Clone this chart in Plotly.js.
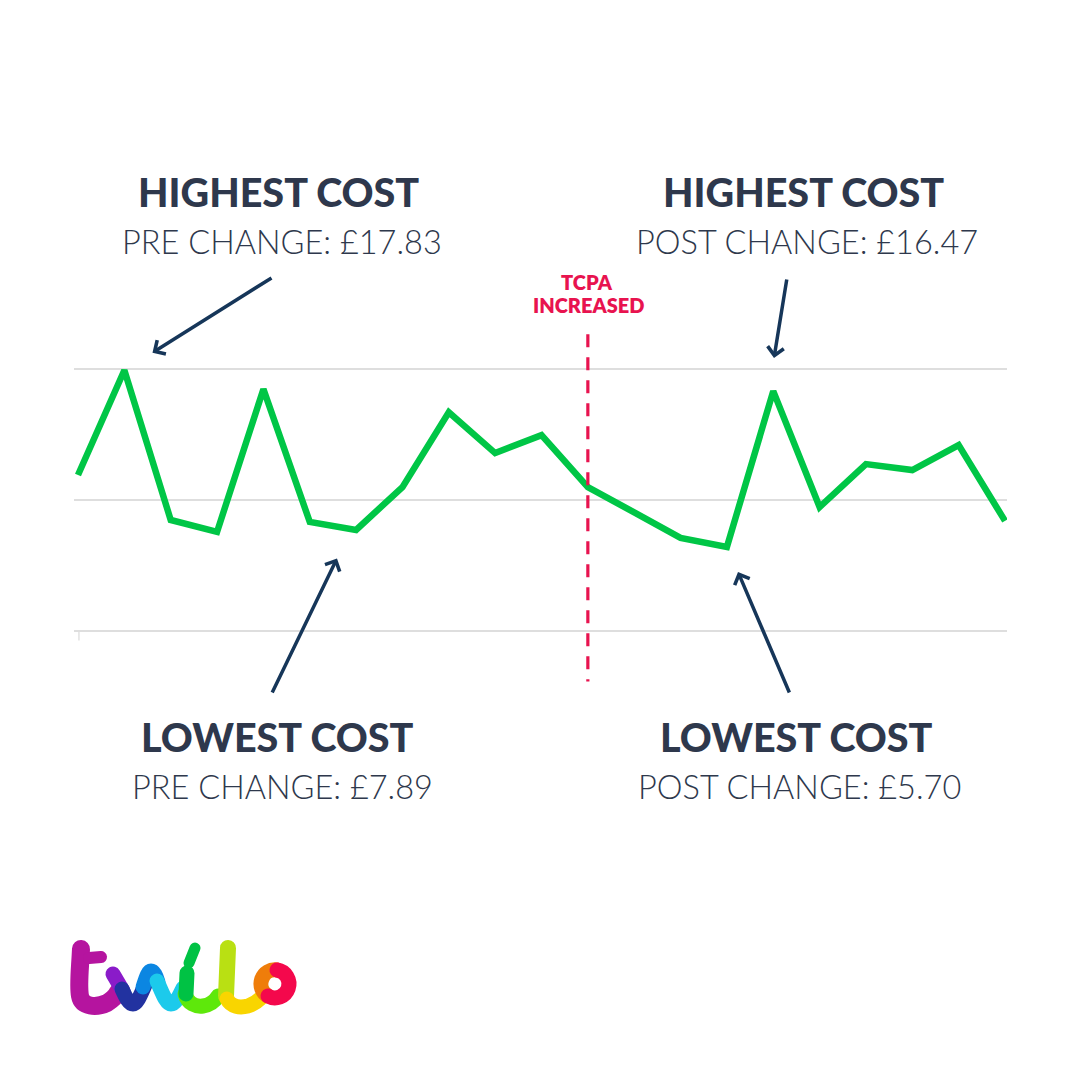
<!DOCTYPE html>
<html>
<head>
<meta charset="utf-8">
<script src="https://cdn.plot.ly/plotly-3.0.1.min.js"></script>
<style>
  html, body { margin: 0; padding: 0; background: #ffffff; }
  #chart { width: 1080px; height: 1080px; }
</style>
</head>
<body>
<div id="chart"></div>
<script>
// ---------- data ----------
const periods = [0, 1, 2, 3, 4, 5, 6, 7, 8, 9, 10, 11, 12, 13, 14, 15, 16, 17, 18, 19, 20];
const costs = [11.53, 17.94, 8.78, 8.05, 16.78, 8.66, 8.17, 10.79, 15.37, 12.87, 13.97,
               10.79, 9.24, 7.68, 7.13, 16.66, 9.57, 12.20, 11.83, 13.36, 8.72];
const gridValues = [2, 10, 18];
const changeIndex = 11;
const changeLabel = ["TCPA", "INCREASED"];
const headings = ["HIGHEST COST", "HIGHEST COST", "LOWEST COST", "LOWEST COST"];
const subLabels = ["PRE CHANGE: £17.83", "POST CHANGE: £16.47", "PRE CHANGE: £7.89", "POST CHANGE: £5.70"];

// ---------- layout helpers ----------
const ML = 74, MR = 73, MT = 330, MB = 392;
const PW = 1080 - ML - MR, PH = 1080 - MT - MB;
const px = x => (x - ML) / PW;
const py = y => (1080 - MB - y) / PH;

const ink = '#2e384c';
const arrowInk = '#163659';
const pink = '#e8134f';

const annotations = [];
const textBlocks = [
  {h: headings[0], s: subLabels[0], hx: 278, hy: 192, sx: 282, sy: 241},
  {h: headings[1], s: subLabels[1], hx: 803, hy: 192, sx: 807, sy: 241},
  {h: headings[2], s: subLabels[2], hx: 277, hy: 736, sx: 282, sy: 786},
  {h: headings[3], s: subLabels[3], hx: 796, hy: 736, sx: 799, sy: 786}
];
textBlocks.forEach(b => {
  annotations.push({xref: 'paper', yref: 'paper', x: px(b.hx), y: py(b.hy),
    xanchor: 'center', yanchor: 'middle', showarrow: false, text: b.h,
    font: {family: 'Lato', size: 39.5, color: ink, weight: 900}});
  annotations.push({xref: 'paper', yref: 'paper', x: px(b.sx), y: py(b.sy),
    xanchor: 'center', yanchor: 'middle', showarrow: false, text: b.s,
    font: {family: 'Lato', size: 32.5, color: ink, weight: 300}});
});
annotations.push({xref: 'paper', yref: 'paper', x: px(586.5), y: py(282), xanchor: 'center', yanchor: 'middle',
  showarrow: false, text: changeLabel[0], font: {family: 'Lato', size: 20, color: pink, weight: 800}});
annotations.push({xref: 'paper', yref: 'paper', x: px(588), y: py(305), xanchor: 'center', yanchor: 'middle',
  showarrow: false, text: changeLabel[1], font: {family: 'Lato', size: 20, color: pink, weight: 800}});
const arrows = [
  {tx: 152.5, ty: 352.7, fx: 273, fy: 277},
  {tx: 774, ty: 358, fx: 787, fy: 278},
  {tx: 337, ty: 558.5, fx: 271.5, fy: 694},
  {tx: 738, ty: 572, fx: 790, fy: 694}
];
arrows.forEach(a => {
  annotations.push({xref: 'paper', yref: 'paper', x: px(a.tx), y: py(a.ty),
    ax: a.fx - a.tx, ay: a.fy - a.ty, axref: 'pixel', ayref: 'pixel',
    text: '', showarrow: true, arrowhead: 4, arrowsize: 0.9, arrowwidth: 3.5,
    arrowcolor: arrowInk, standoff: 0, startstandoff: 0});
});

const logoSvg = `<svg xmlns="http://www.w3.org/2000/svg" viewBox="0 0 260 100" width="260" height="100">
<g fill="none" stroke-linecap="round" stroke-linejoin="round">
<path d="M21,19 C20,40 18,55 20,66 C22,77 36,78 47,73 C52,70 56,66 58,62" stroke="#b5149f" stroke-width="18"/>
<path d="M29,28 L41,27" stroke="#b5149f" stroke-width="12"/>
<path d="M53,44 L63,61" stroke="#8a1bc9" stroke-width="15"/>
<path d="M62,59 C66,68 69,74 73,74 C77,74 81,64 85,55" stroke="#2232a0" stroke-width="15"/>
<path d="M83,57 C86,48 88,41 91,41 C94,41 96,46 98,52" stroke="#0b86e2" stroke-width="15"/>
<path d="M97,51 C102,62 106,74 111,74 C116,74 120,64 123,58" stroke="#1ccaeb" stroke-width="15"/>
<path d="M125,64 C128,74 136,77 143,76 C150,75 155,71 158,66" stroke="#5ee80b" stroke-width="15"/>
<path d="M127,43 L126,64" stroke="#00c244" stroke-width="15"/>
<path d="M135,18 L129,33" stroke="#00c244" stroke-width="11"/>
<path d="M168,18 L166,66" stroke="#b9e013" stroke-width="16"/>
<path d="M167,69 C171,77 180,78 188,76 C194,74 198,71 201,68" stroke="#f9d500" stroke-width="15"/>
<path d="M217,40 A14,14 0 0 0 208,66" stroke="#ef7d0a" stroke-width="15"/>
<path d="M208,66 A14,14 0 1 0 217,40" stroke="#f4084c" stroke-width="15"/>
</g></svg>`;
const logoSrc = 'data:image/svg+xml;charset=utf-8,' + encodeURIComponent(logoSvg);

const traces = [{
  type: 'scatter', mode: 'lines', x: periods, y: costs,
  line: {color: '#00c646', width: 6.5, shape: 'linear'},
  hoverinfo: 'skip', showlegend: false
}];

const layout = {
  width: 1080, height: 1080,
  margin: {l: ML, r: MR, t: MT, b: MB, pad: 0},
  paper_bgcolor: '#ffffff', plot_bgcolor: '#ffffff',
  showlegend: false,
  xaxis: {range: [-4 / 46.35, 20 + 2 / 46.35], showgrid: false, zeroline: false,
          showticklabels: false, showline: false, ticks: '', fixedrange: true},
  yaxis: {range: [-1.5, 20.4], tickvals: gridValues, showgrid: true, gridcolor: '#dedede', gridwidth: 2,
          zeroline: false, showticklabels: false, showline: false, ticks: '', fixedrange: true},
  shapes: [
    {type: 'line', xref: 'x', yref: 'y', x0: changeIndex, x1: changeIndex, y0: 20.14, y1: -1.1,
     line: {color: pink, width: 3.2, dash: '13px,10px'}, layer: 'above'},
    {type: 'line', xref: 'x', yref: 'y', x0: periods[0] + 0.02, x1: periods[0] + 0.02, y0: gridValues[0], y1: gridValues[0] - 0.6,
     line: {color: '#e2e2e2', width: 1.5}, layer: 'below'}
  ],
  annotations: annotations,
  images: [{source: logoSrc, xref: 'paper', yref: 'paper', x: px(60), y: py(930),
            sizex: 260 / PW, sizey: 100 / PH, xanchor: 'left', yanchor: 'top', sizing: 'stretch', layer: 'above'}]
};

Plotly.newPlot('chart', traces, layout, {staticPlot: true, displayModeBar: false});
</script>
</body>
</html>
